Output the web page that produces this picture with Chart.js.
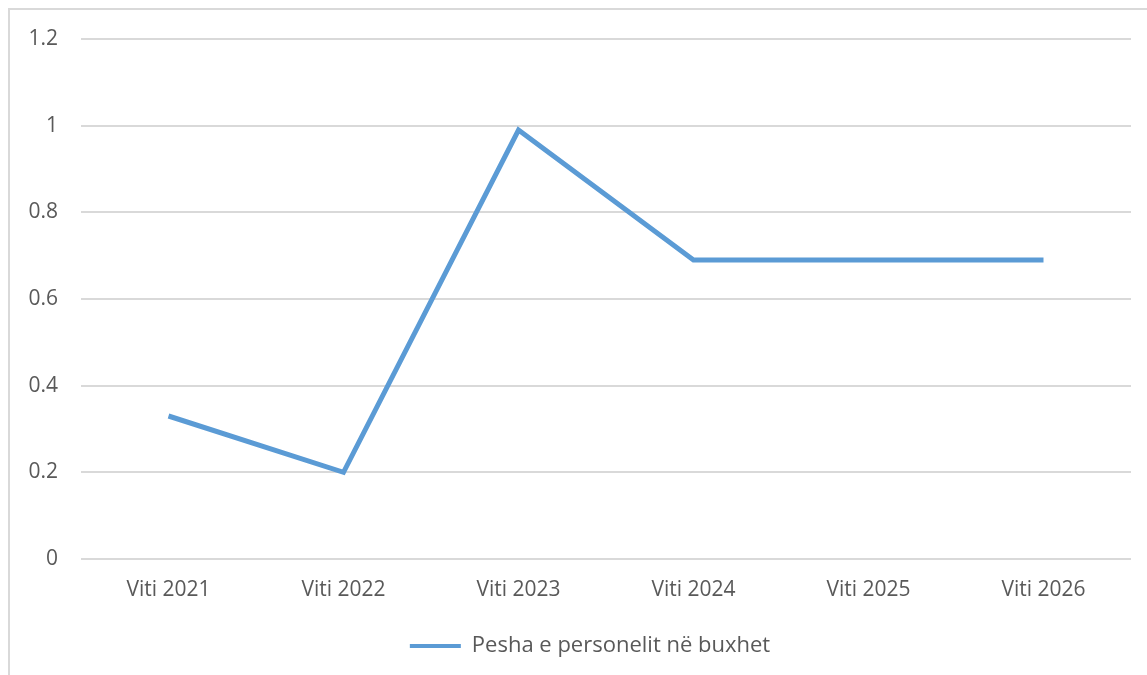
<!DOCTYPE html>
<html>
<head>
<meta charset="utf-8">
<script src="https://cdn.jsdelivr.net/npm/chart.js@4/dist/chart.umd.min.js"></script>
<style>
  html, body { margin: 0; padding: 0; background: #ffffff; }
  #wrap { position: relative; width: 1147px; height: 675px; }
</style>
</head>
<body>
<div id="wrap"><canvas id="chart" width="1147" height="675"></canvas></div>
<script>
// Years shown on the category axis
const years = ['Viti 2021', 'Viti 2022', 'Viti 2023', 'Viti 2024', 'Viti 2025', 'Viti 2026'];
// Share of personnel in the budget
const personnelShare = [0.33, 0.2, 0.99, 0.69, 0.69, 0.69];
const seriesName = 'Pesha e personelit në buxhet';
// Value-axis tick labels
const yTickValues = [0, 0.2, 0.4, 0.6, 0.8, 1, 1.2];
const yTickLabels = ['0', '0.2', '0.4', '0.6', '0.8', '1', '1.2'];

const BLUE = '#5b9bd5';
const TEXT = '#595959';
const GRID = '#d9d9d9';
const FONT = '"Open Sans", sans-serif';
const AXIS_FONT_SIZE = 21;
const LEGEND_FONT_SIZE = 22;

// Light frame along the top and left edges
const framePlugin = {
  id: 'frame',
  beforeDraw(chart) {
    const ctx = chart.ctx;
    ctx.save();
    ctx.strokeStyle = GRID;
    ctx.lineWidth = 2;
    ctx.beginPath();
    ctx.moveTo(9, chart.height);
    ctx.lineTo(9, 9);
    ctx.lineTo(chart.width, 9);
    ctx.stroke();
    ctx.restore();
  }
};

// Centre the legend under the plot area rather than the whole canvas
const legendShiftPlugin = {
  id: 'legendShift',
  afterLayout(chart) {
    const lg = chart.legend;
    if (!lg) return;
    const area = chart.chartArea;
    const shift = (area.left + area.right) / 2 - (lg.left + lg.right) / 2 - 16;
    lg.left += shift;
    lg.right += shift;
  }
};

new Chart(document.getElementById('chart'), {
  type: 'line',
  data: {
    labels: years,
    datasets: [{
      label: seriesName,
      data: personnelShare,
      borderColor: BLUE,
      backgroundColor: BLUE,
      borderWidth: 5,
      borderJoinStyle: 'miter',
      borderCapStyle: 'butt',
      pointRadius: 0,
      pointHoverRadius: 0,
      tension: 0,
      fill: false
    }]
  },
  options: {
    responsive: false,
    animation: false,
    events: [],
    layout: { padding: { top: 39, right: 16, left: 0, bottom: 8 } },
    plugins: {
      tooltip: { enabled: false },
      legend: {
        position: 'bottom',
        labels: {
          color: TEXT,
          font: { family: FONT, size: LEGEND_FONT_SIZE },
          boxWidth: 51,
          boxHeight: 4,
          padding: 9,
          generateLabels(chart) {
            return chart.data.datasets.map((ds, i) => ({
              text: ds.label,
              fillStyle: BLUE,
              strokeStyle: BLUE,
              lineWidth: 0,
              fontColor: TEXT,
              hidden: false,
              datasetIndex: i
            }));
          }
        }
      }
    },
    scales: {
      x: {
        offset: true,
        grid: { display: false, offset: true },
        border: { display: false },
        ticks: {
          color: TEXT,
          font: { family: FONT, size: AXIS_FONT_SIZE },
          padding: 10,
          maxRotation: 0
        },
        afterFit(scale) { scale.height = 67; }
      },
      y: {
        min: 0,
        max: 1.2,
        afterBuildTicks(scale) {
          scale.ticks = yTickValues.map(v => ({ value: v }));
        },
        grid: { color: GRID, lineWidth: 2, drawTicks: false },
        border: { display: false },
        ticks: {
          color: TEXT,
          font: { family: FONT, size: AXIS_FONT_SIZE },
          padding: 23,
          callback(value) {
            const i = yTickValues.findIndex(v => Math.abs(v - value) < 1e-9);
            return i >= 0 ? yTickLabels[i] : '';
          }
        },
        afterFit(scale) { scale.width = 81; }
      }
    }
  },
  plugins: [framePlugin, legendShiftPlugin]
});
</script>
</body>
</html>
